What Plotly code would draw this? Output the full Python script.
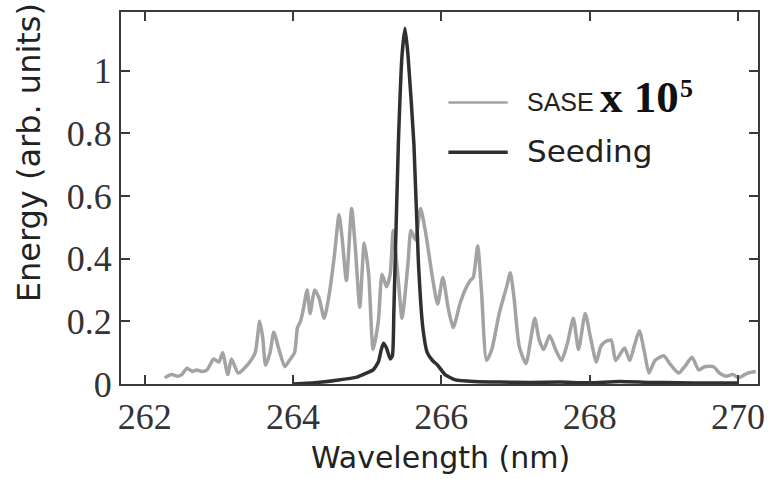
import plotly.graph_objects as go

# SASE spectrum (x 1e5), wavelength in nm
sase_wl = [262.27, 262.36, 262.44, 262.50, 262.57, 262.64, 262.70, 262.77, 262.84, 262.93,
           263.00, 263.05, 263.12, 263.17, 263.26, 263.40, 263.49, 263.55, 263.59, 263.63,
           263.69, 263.74, 263.81, 263.89, 263.95, 264.02, 264.06, 264.10, 264.14, 264.19,
           264.23, 264.29, 264.35, 264.42, 264.49, 264.56, 264.62, 264.66, 264.72, 264.79,
           264.84, 264.90, 264.96, 265.02, 265.08, 265.15, 265.20, 265.26, 265.31, 265.35,
           265.42, 265.47, 265.55, 265.59, 265.65, 265.72, 265.79, 265.88, 265.95, 266.02,
           266.09, 266.16, 266.25, 266.32, 266.39, 266.43, 266.49, 266.54, 266.61, 266.68,
           266.78, 266.88, 266.93, 266.98, 267.05, 267.14, 267.21, 267.26, 267.32, 267.38,
           267.46, 267.54, 267.62, 267.70, 267.78, 267.85, 267.94, 268.01, 268.09, 268.15,
           268.21, 268.29, 268.35, 268.47, 268.54, 268.60, 268.67, 268.74, 268.80, 268.88,
           269.00, 269.08, 269.20, 269.28, 269.38, 269.47, 269.55, 269.67, 269.75, 269.84,
           269.93, 270.01, 270.13, 270.24]
sase_energy = [0.020, 0.030, 0.025, 0.030, 0.050, 0.040, 0.045, 0.040, 0.045, 0.080,
               0.070, 0.100, 0.030, 0.080, 0.035, 0.065, 0.100, 0.200, 0.150, 0.060,
               0.100, 0.165, 0.110, 0.055, 0.075, 0.100, 0.180, 0.200, 0.240, 0.300,
               0.225, 0.300, 0.275, 0.210, 0.290, 0.415, 0.540, 0.470, 0.330, 0.560,
               0.435, 0.245, 0.450, 0.350, 0.110, 0.200, 0.350, 0.310, 0.350, 0.490,
               0.330, 0.210, 0.385, 0.490, 0.460, 0.560, 0.480, 0.340, 0.255, 0.340,
               0.245, 0.180, 0.255, 0.300, 0.330, 0.340, 0.440, 0.300, 0.075, 0.110,
               0.225, 0.310, 0.355, 0.275, 0.120, 0.065, 0.150, 0.210, 0.140, 0.110,
               0.155, 0.110, 0.075, 0.130, 0.210, 0.110, 0.225, 0.150, 0.070, 0.120,
               0.135, 0.140, 0.075, 0.115, 0.075, 0.120, 0.170, 0.100, 0.035, 0.075,
               0.090, 0.065, 0.035, 0.055, 0.085, 0.045, 0.055, 0.055, 0.035, 0.025,
               0.030, 0.020, 0.035, 0.040]

# Seeded spectrum
seed_wl = [264.00, 264.33, 264.59, 264.86, 264.99, 265.08, 265.15, 265.19, 265.22, 265.26,
           265.31, 265.34, 265.36, 265.42, 265.47, 265.51, 265.55, 265.63, 265.69, 265.75,
           265.81, 265.88, 265.95, 266.05, 266.19, 266.45, 266.80, 267.20, 267.60, 268.00,
           268.40, 268.80, 269.20, 269.60, 270.00]
seed_energy = [0.000, 0.005, 0.012, 0.022, 0.035, 0.045, 0.070, 0.110, 0.130, 0.115,
               0.080, 0.090, 0.235, 0.765, 1.050, 1.135, 1.050, 0.765, 0.390, 0.180,
               0.100, 0.075, 0.060, 0.030, 0.013, 0.008, 0.006, 0.005, 0.006, 0.004,
               0.008, 0.005, 0.004, 0.003, 0.003]

x_ticks = [262, 264, 266, 268, 270]
y_ticks = [0, 0.2, 0.4, 0.6, 0.8, 1]
y_ticktext = ["0", "0.2", "0.4", "0.6", "0.8", "1"]

SASE_COLOR = "#a3a3a3"
SEED_COLOR = "#303030"
AXIS_COLOR = "#3a3a3a"

fig = go.Figure()
fig.add_trace(go.Scatter(x=sase_wl, y=sase_energy, mode="lines",
                         line=dict(color=SASE_COLOR, width=3.5, shape="spline", smoothing=0.6),
                         name="SASE", showlegend=False))
fig.add_trace(go.Scatter(x=seed_wl, y=seed_energy, mode="lines",
                         line=dict(color=SEED_COLOR, width=3.5, shape="spline", smoothing=0.5),
                         name="Seeding", showlegend=False))

W, H = 775, 479
L, R, T, B = 121, 10, 10, 95
pw, ph = W - L - R, H - T - B


def px(xp):
    return (xp - L) / pw


def py(yp):
    return (H - B - yp) / ph


tick_font = dict(family="Liberation Serif", size=36, color="#333333")
axis_common = dict(showline=True, linecolor=AXIS_COLOR, linewidth=2, mirror="ticks",
                   ticks="inside", ticklen=9, tickwidth=2, tickcolor=AXIS_COLOR,
                   showgrid=False, zeroline=False, tickfont=tick_font)

fig.update_layout(
    width=W, height=H,
    margin=dict(l=L, r=R, t=T, b=B),
    paper_bgcolor="white", plot_bgcolor="white",
    xaxis=dict(range=[261.68, 270.27], tickvals=x_ticks, **axis_common),
    yaxis=dict(range=[0, 1.187], tickvals=y_ticks, ticktext=y_ticktext, **axis_common),
    showlegend=False,
)

# legend samples
fig.add_shape(type="line", xref="paper", yref="paper", x0=px(452), x1=px(512),
              y0=py(101), y1=py(101), line=dict(color=SASE_COLOR, width=2.5))
fig.add_shape(type="line", xref="paper", yref="paper", x0=px(452), x1=px(512),
              y0=py(151), y1=py(151), line=dict(color=SEED_COLOR, width=3.5))

ann = []
ann.append(dict(text="SASE", x=px(529), y=py(100), xanchor="left", yanchor="middle",
                font=dict(family="Liberation Sans", size=25, color="#222222")))
ann.append(dict(text="<b>x 10</b>", x=px(603), y=py(95), xanchor="left", yanchor="middle",
                font=dict(family="Liberation Serif", size=45, color="#111111")))
ann.append(dict(text="<b>5</b>", x=px(684), y=py(87), xanchor="left", yanchor="middle",
                font=dict(family="Liberation Serif", size=26, color="#111111")))
ann.append(dict(text="Seeding", x=px(529), y=py(150), xanchor="left", yanchor="middle",
                font=dict(family="DejaVu Sans", size=31, color="#222222")))
ann.append(dict(text="Wavelength (nm)", x=px(444), y=py(458), xanchor="center", yanchor="middle",
                font=dict(family="DejaVu Sans", size=30, color="#222222")))
ann.append(dict(text="Energy (arb. units)", x=px(28), y=py(152), xanchor="center", yanchor="middle",
                textangle=-90,
                font=dict(family="DejaVu Sans", size=32, color="#222222")))
for a in ann:
    a.update(xref="paper", yref="paper", showarrow=False)
fig.update_layout(annotations=ann)

fig.write_html("out.html", config={"displayModeBar": False},
               post_script="document.body.style.margin='0';")
